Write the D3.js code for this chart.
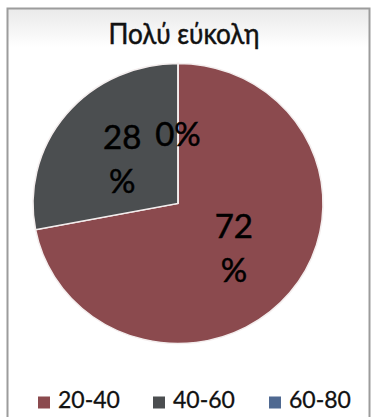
<!DOCTYPE html>
<html>
<head>
<meta charset="utf-8">
<script src="https://cdn.jsdelivr.net/npm/d3@7"></script>
<style>
  html, body { margin: 0; padding: 0; background: #ffffff; }
  svg { display: block; font-family: Lato, "Open Sans", sans-serif; }
</style>
</head>
<body>
<svg id="chart" width="373" height="417"></svg>
<script>
// Age groups and their shares (%)
const categories = ["20-40", "40-60", "60-80"];
const values = [72, 28, 0];
const labels = ["72\n%", "28\n%", "0%"];
const colors = ["#8b4a4e", "#4b4e50", "#4f6991"];
const title = "Πολύ εύκολη";

const svg = d3.select("#chart");

// Chart frame with a soft top gradient
const defs = svg.append("defs");
const grad = defs.append("linearGradient").attr("id", "bg").attr("x1", 0).attr("y1", 0).attr("x2", 0).attr("y2", 1);
grad.append("stop").attr("offset", "0%").attr("stop-color", "#e9e9e9");
grad.append("stop").attr("offset", "9%").attr("stop-color", "#ffffff");
grad.append("stop").attr("offset", "100%").attr("stop-color", "#ffffff");

svg.append("rect")
  .attr("x", 7.5).attr("y", 8.5)
  .attr("width", 362).attr("height", 430)
  .attr("fill", "url(#bg)")
  .attr("stroke", "#9c9c9c")
  .attr("stroke-width", 2);

// Title (slightly condensed)
svg.append("text")
  .attr("transform", "translate(184,43.5) scale(0.9,1)")
  .attr("text-anchor", "middle")
  .attr("font-size", 29)
  .attr("fill", "#111")
  .attr("stroke", "#111")
  .attr("stroke-width", 0.5)
  .text(title);

// Pie
const cx = 178, cy = 203.5, r = 140, sx = 145 / 140;
const pie = d3.pie().sort(null).startAngle(0).endAngle(2 * Math.PI);
const arcs = pie(values);
const arc = d3.arc().innerRadius(0).outerRadius(r);

const g = svg.append("g").attr("transform", `translate(${cx},${cy}) scale(${sx},1)`);
g.selectAll("path")
  .data(arcs)
  .join("path")
  .attr("d", arc)
  .attr("fill", (d, i) => colors[i])
  .attr("stroke", "#f4eeee")
  .attr("stroke-width", 1.5);

// Slice labels at centroids
const lg = svg.append("g").attr("transform", `translate(${cx},${cy})`);
const lineH = 44;
arcs.forEach((d, i) => {
  const [x, y] = arc.centroid(d);
  const lines = labels[i].split("\n");
  const t = lg.append("text")
    .attr("text-anchor", "middle")
    .attr("font-size", 33)
    .attr("fill", "#000")
    .attr("stroke", "#000")
    .attr("stroke-width", 0.5);
  const y0 = y - (lines.length - 1) * lineH / 2 + 12;
  lines.forEach((s, k) => {
    t.append("tspan").attr("x", x * sx).attr("y", y0 + k * lineH).text(s);
  });
});

// Legend
const legendX = [38, 153, 269];
const leg = svg.append("g");
categories.forEach((c, i) => {
  leg.append("rect")
    .attr("x", legendX[i]).attr("y", 396.5)
    .attr("width", 12).attr("height", 12)
    .attr("fill", colors[i]);
  leg.append("text")
    .attr("x", legendX[i] + 20).attr("y", 408)
    .attr("font-size", 23)
    .attr("fill", "#111")
    .attr("stroke", "#111")
    .attr("stroke-width", 0.3)
    .text(c);
});
</script>
</body>
</html>
